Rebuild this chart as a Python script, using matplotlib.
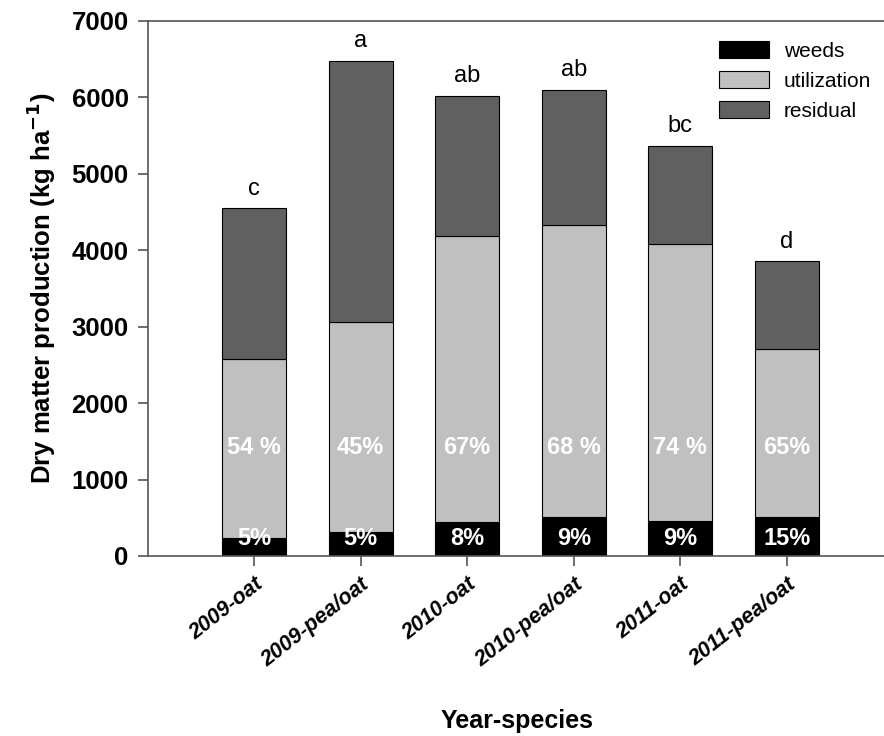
import matplotlib.pyplot as plt
import numpy as np

plt.rcParams['font.family'] = ['Liberation Sans', 'DejaVu Sans']

categories = ['2009-oat', '2009-pea/oat', '2010-oat', '2010-pea/oat', '2011-oat', '2011-pea/oat']
weeds = [235, 315, 445, 510, 460, 510]
utilization_top = [2580, 3060, 4190, 4330, 4080, 2710]
total = [4550, 6480, 6020, 6100, 5370, 3860]
util_pct = ['54 %', '45%', '67%', '68 %', '74 %', '65%']
weed_pct = ['5%', '5%', '8%', '9%', '9%', '15%']
letters = ['c', 'a', 'ab', 'ab', 'bc', 'd']

utilization = [u - w for u, w in zip(utilization_top, weeds)]
residual = [t - u for t, u in zip(total, utilization_top)]

fig = plt.figure(figsize=(8.84, 7.36), dpi=100)
ax = fig.add_axes([0.1674, 0.2446, 0.8326, 0.7269])

x = np.arange(len(categories))
w = 0.6
ax.bar(x, weeds, w, color='black', edgecolor='black', linewidth=0.8, label='weeds')
ax.bar(x, utilization, w, bottom=weeds, color='#c0c0c0', edgecolor='black', linewidth=0.8, label='utilization')
ax.bar(x, residual, w, bottom=utilization_top, color='#606060', edgecolor='black', linewidth=0.8, label='residual')

for i in range(len(x)):
    ax.text(x[i], 1420, util_pct[i], ha='center', va='center', color='white',
            fontsize=17, fontweight='bold')
    ax.text(x[i], 230, weed_pct[i], ha='center', va='center', color='white',
            fontsize=17, fontweight='bold')
    ax.text(x[i], total[i] + 110, letters[i], ha='center', va='bottom', fontsize=17)

ax.set_xlim(-0.994, 5.91)
ax.set_ylim(0, 7000)
ax.set_yticks(range(0, 7001, 1000))
ax.set_xticks(x)
ax.set_xticklabels(categories, rotation=38, ha='right', rotation_mode='anchor',
                   fontsize=15.5, fontweight='bold', fontstyle='italic')
for lab in ax.get_yticklabels():
    lab.set_fontsize(18.5)
    lab.set_fontweight('bold')

for s in ['left', 'bottom', 'top']:
    ax.spines[s].set_color('#555555')
    ax.spines[s].set_linewidth(1.2)
ax.spines['right'].set_visible(False)
ax.tick_params(axis='both', direction='out', length=7, color='#555555', width=1.2)
ax.tick_params(axis='y', pad=7)
ax.tick_params(axis='x', pad=6)

ax.set_ylabel('Dry matter production (kg ha$^{\\mathbf{-1}}$)', fontsize=18.5, fontweight='bold', labelpad=10)
fig.text(0.585, 0.02, 'Year-species', ha='center', va='center', fontsize=18, fontweight='bold')

ax.legend(loc='upper right', bbox_to_anchor=(1.008, 0.997), frameon=False, fontsize=15,
          handlelength=2.4, handleheight=0.85, labelspacing=0.5, handletextpad=0.7)

fig.savefig('out.png', dpi=100)
